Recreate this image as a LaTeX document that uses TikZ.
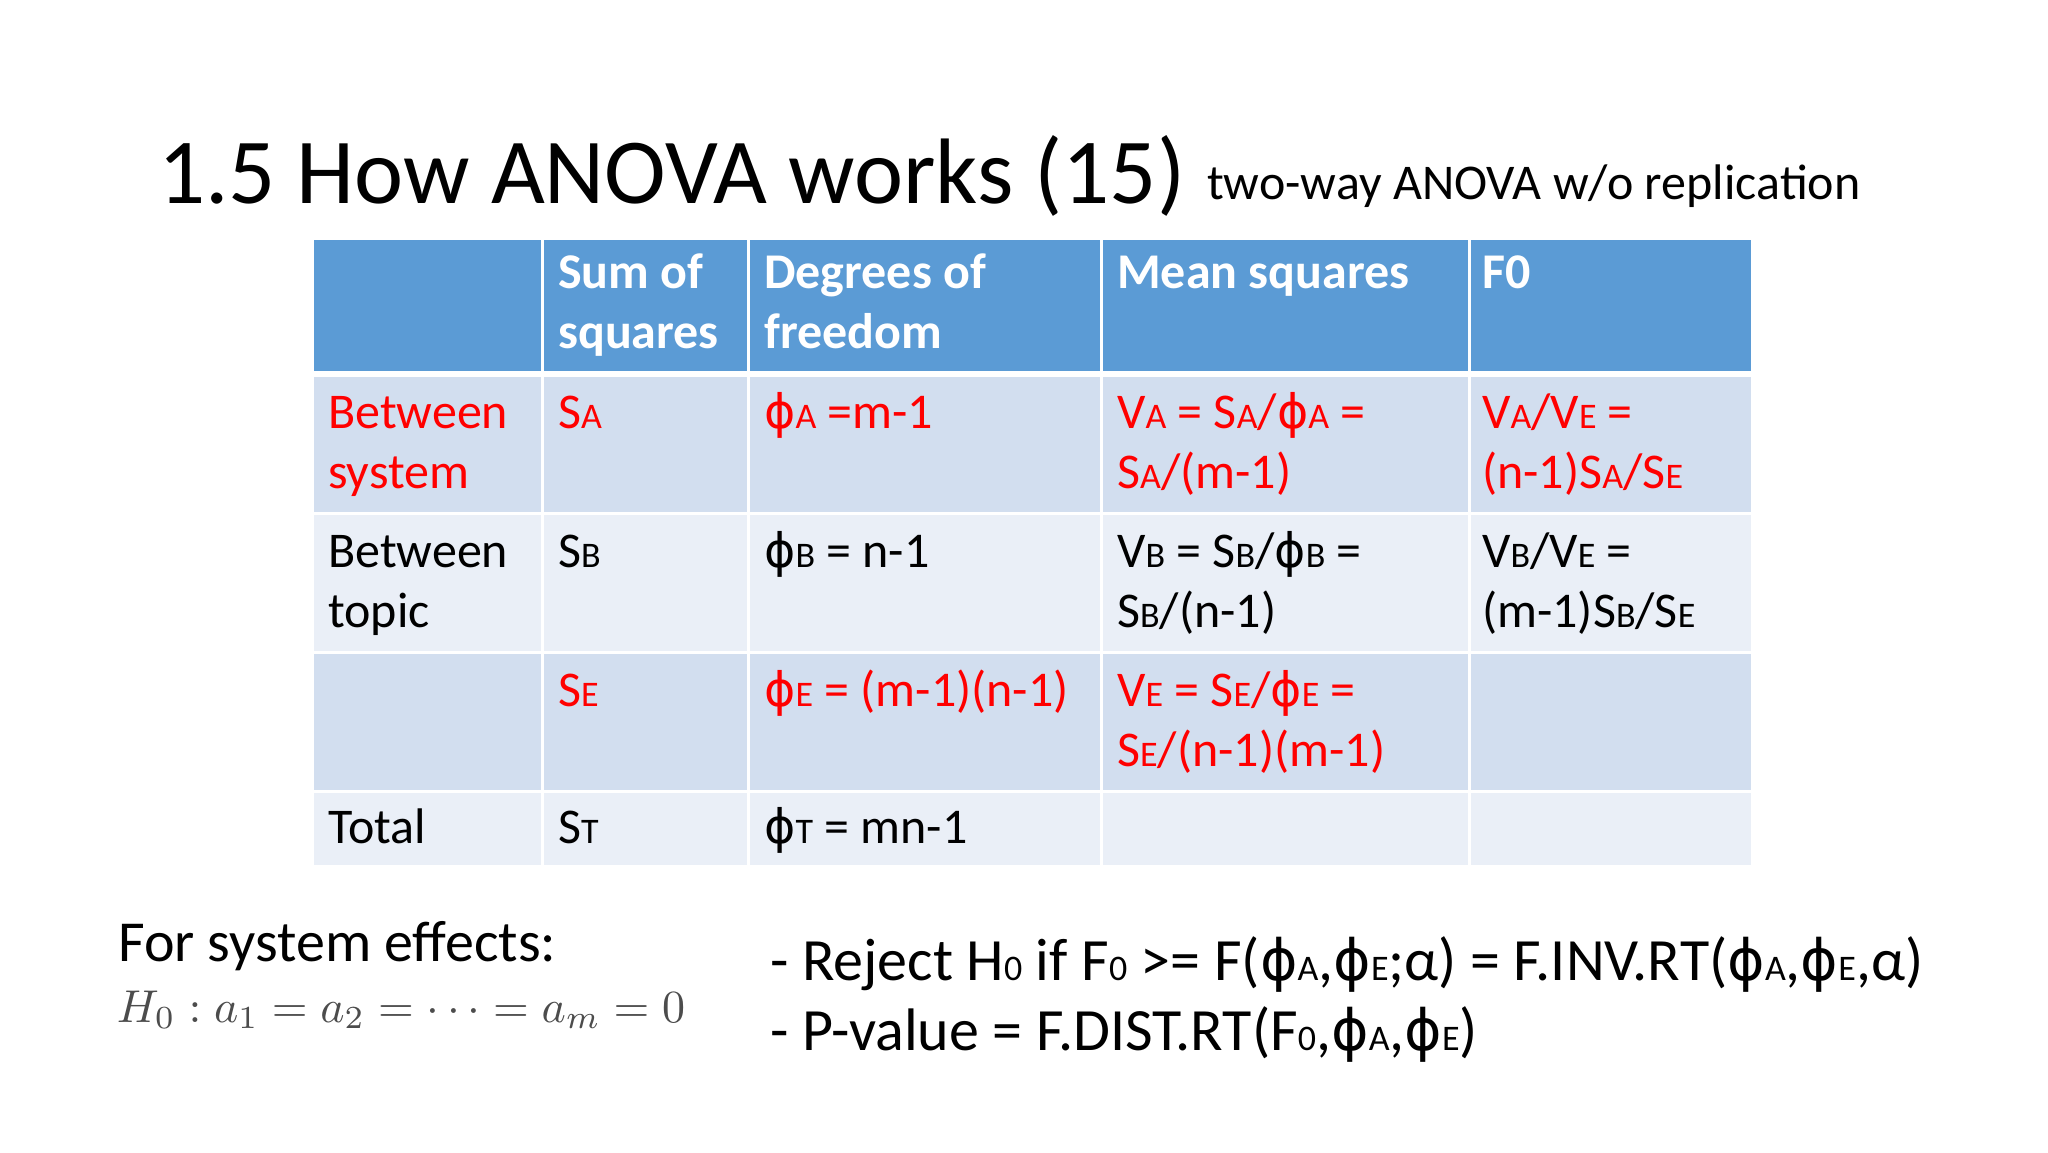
\documentclass[tikz,border=0pt]{standalone}
\usepackage{fontspec}
\setmainfont{Carlito}
\newfontfamily\phif{DejaVu Sans}
\definecolor{hdr}{HTML}{5B9BD5}
\definecolor{rowa}{HTML}{D2DEEF}
\definecolor{rowb}{HTML}{EAEFF7}
\definecolor{redt}{HTML}{FF0000}
\newcommand{\sbx}[1]{{\fontsize{36}{36}\selectfont #1}}
\newcommand{\fsz}[1]{\fontsize{#1}{#1}\selectfont}
\newcommand{\ph}{{\phif\scalebox{0.95}{ϕ}}}
\begin{document}
\begin{tikzpicture}[x=1pt,y=-1pt,
  txt/.style={anchor=base west,inner sep=0pt,font=\fsz{50}},
  hd/.style={txt,text=white,font=\fsz{50}\bfseries},
  rd/.style={txt,text=redt},
  cellbox/.style={draw=white,line width=3pt}]
\useasboundingbox (0,0) rectangle (2048,1152);
\fill[white] (0,0) rectangle (2048,1152);
\node[anchor=base west,inner sep=0pt,font=\fsz{93}] (title) at (158,203) {1.5 How ANOVA works (15)};
\node[anchor=base west,inner sep=0pt,font=\fsz{50}] (sub) at (1207,199) {two-way ANOVA w/o replication};
% table
\foreach \ya/\yb/\c in {238/374/hdr,374/513/rowa,513/652/rowb,652/791/rowa,791/866/rowb}{
  \foreach \xa/\xb in {312/542,542/748,748/1101,1101/1469,1469/1752}{
    \filldraw[cellbox,fill=\c] (\xa,\ya) rectangle (\xb,\yb);
  }}
\draw[white,line width=6pt] (312,374) -- (1752,374);
% header
\node[hd] (h1) at (558,288) {Sum of};
\node[hd] (h1b) at (558,348) {squares};
\node[hd] (h2) at (764,288) {Degrees of};
\node[hd] (h2b) at (764,348) {freedom};
\node[hd] (h3) at (1117,288) {Mean squares};
\node[hd] (h4) at (1482,288) {F0};
% row 1
\node[rd] (r1a) at (328,428) {Between};
\node[rd] (r1b) at (328,488) {system};
\node[rd] (r1c) at (558,428) {S\sbx{A}};
\node[rd] (r1d) at (764,428) {\ph\sbx{A} =m-1};
\node[rd] (r1e) at (1117,428) {V\sbx{A} = S\sbx{A}/\ph\sbx{A} =};
\node[rd] (r1f) at (1117,488) {S\sbx{A}/(m-1)};
\node[rd] (r1g) at (1482,428) {V\sbx{A}/V\sbx{E} =};
\node[rd] (r1h) at (1482,488) {(n-1)S\sbx{A}/S\sbx{E}};
% row 2
\node[txt] (r2a) at (328,567) {Between};
\node[txt] (r2b) at (328,627) {topic};
\node[txt] (r2c) at (558,567) {S\sbx{B}};
\node[txt] (r2d) at (764,567) {\ph\sbx{B} = n-1};
\node[txt] (r2e) at (1117,567) {V\sbx{B} = S\sbx{B}/\ph\sbx{B} =};
\node[txt] (r2f) at (1117,627) {S\sbx{B}/(n-1)};
\node[txt] (r2g) at (1482,567) {V\sbx{B}/V\sbx{E} =};
\node[txt] (r2h) at (1482,627) {(m-1)S\sbx{B}/S\sbx{E}};
% row 3
\node[rd] (r3c) at (558,706) {S\sbx{E}};
\node[rd] (r3d) at (764,706) {\ph\sbx{E} = (m-1)(n-1)};
\node[rd] (r3e) at (1117,706) {V\sbx{E} = S\sbx{E}/\ph\sbx{E} =};
\node[rd] (r3f) at (1117,766) {S\sbx{E}/(n-1)(m-1)};
% row 4
\node[txt] (r4a) at (328,843) {Total};
\node[txt] (r4c) at (558,843) {S\sbx{T}};
\node[txt] (r4d) at (764,843) {\ph\sbx{T} = mn-1};
% bottom
\node[txt,font=\fsz{58}] (fs) at (118,961) {For system effects:};
\node[anchor=base west,inner sep=0pt,text=black!70,scale=4.6] (h0) at (116,1022) {$H_0 : a_1 = a_2 = \cdots = a_m = 0$};
\node[txt,font=\fsz{60}] (rej) at (770,980) {- Reject H\sbx{0} if F\sbx{0} >= F(\ph\sbx{A},\ph\sbx{E};α) = F.INV.RT(\ph\sbx{A},\ph\sbx{E},α)};
\node[txt,font=\fsz{60}] (pv) at (770,1050) {- P-value = F.DIST.RT(F\sbx{0},\ph\sbx{A},\ph\sbx{E})};
\end{tikzpicture}
\end{document}
